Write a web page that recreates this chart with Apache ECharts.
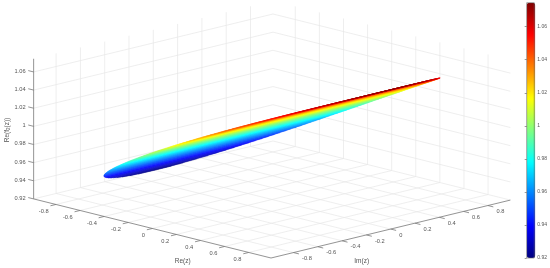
<!DOCTYPE html>
<html><head><meta charset="utf-8">
<style>html,body{margin:0;padding:0;background:#fff}#c{width:550px;height:268px;filter:blur(0.35px)}</style>
<script src="https://cdn.jsdelivr.net/npm/echarts@6/dist/echarts.min.js"></script>
</head><body><div id="c"></div>
<script>
// ---- values ----
var reTicks = [-0.8,-0.6,-0.4,-0.2,0,0.2,0.4,0.6,0.8];
var imTicks = [-0.8,-0.6,-0.4,-0.2,0,0.2,0.4,0.6,0.8];
var zTicks  = [0.92,0.94,0.96,0.98,1,1.02,1.04,1.06];
var reSlices = [-0.983,-0.973,-0.958,-0.934,-0.909,-0.885,-0.860,-0.836,-0.811,-0.786,-0.762,-0.737,-0.713,-0.688,-0.664,-0.639,-0.614,-0.590,-0.565,-0.541,-0.516,-0.492,
  -0.467,-0.442,-0.418,-0.393,-0.369,-0.344,-0.319,-0.295,-0.270,-0.246,-0.221,-0.197,-0.172,-0.147,-0.123,-0.098,-0.074,-0.049,-0.025,0,
  0.025,0.049,0.074,0.098,0.123,0.147,0.172,0.197,0.221,0.246,0.270,0.295,0.319,0.344,0.369,0.393,0.418,0.442,0.467,0.492,
  0.516,0.541,0.565,0.590,0.614,0.639,0.664,0.688,0.713,0.737,0.762,0.786,0.811,0.836,0.860,0.885,0.909,0.934,0.958,0.973,0.983];
var imHalf = [0,0.139,0.218,0.307,0.374,0.428,0.476,0.518,0.556,0.590,0.621,0.650,0.677,0.702,0.725,0.747,0.767,0.786,0.804,0.821,0.837,0.851,
  0.865,0.878,0.890,0.901,0.911,0.921,0.930,0.938,0.945,0.952,0.958,0.963,0.968,0.972,0.975,0.978,0.980,0.982,0.983,0.983,
  0.983,0.982,0.980,0.978,0.975,0.972,0.968,0.963,0.958,0.952,0.945,0.938,0.930,0.921,0.911,0.901,0.890,0.878,0.865,0.851,
  0.837,0.821,0.804,0.786,0.767,0.747,0.725,0.702,0.677,0.650,0.621,0.590,0.556,0.518,0.476,0.428,0.374,0.307,0.218,0.139,0];
var zEdge = [0.9194,0.9203,0.9217,0.9240,0.9262,0.9285,0.9307,0.9329,0.9352,0.9374,0.9396,0.9418,0.9440,0.9462,0.9483,0.9505,0.9527,0.9548,0.9569,0.9591,0.9612,0.9633,
  0.9654,0.9675,0.9696,0.9717,0.9737,0.9758,0.9778,0.9799,0.9819,0.9839,0.9859,0.9879,0.9899,0.9919,0.9939,0.9958,0.9978,0.9997,1.0017,1.0036,
  1.0055,1.0074,1.0093,1.0112,1.0131,1.0150,1.0169,1.0187,1.0206,1.0224,1.0242,1.0261,1.0279,1.0297,1.0315,1.0333,1.0350,1.0368,1.0386,1.0403,
  1.0421,1.0438,1.0455,1.0472,1.0489,1.0506,1.0523,1.0540,1.0556,1.0573,1.0590,1.0606,1.0622,1.0639,1.0655,1.0671,1.0687,1.0703,1.0718,1.0728,1.0734];
var jetColors = ['#00007f','#0000ff','#007fff','#00ffff','#7fff7f','#ffff00','#ff7f00','#ff0000','#7f0000'];
var reName = 'Re(z)', imName = 'Im(z)';

// ---- 3-D box limits and view ----
var lim = 0.985, zMin = 0.92, zMax = 1.0745;
var view = {cx:272, cy:199.5, ax:120.5, ay:30, bx:121.5, by:-29.4, c:907};
function proj(re, im, z){
  return [view.cx + view.ax*re + view.bx*im,
          view.cy + view.ay*re + view.by*im - view.c*(z - zMin)];
}
var FONT = '"Liberation Sans", Arial, sans-serif';
var TEXT = '#555', AXIS = '#787878', GRID = '#e6e6e6';

function seg(a,b){ return a.concat(b); }
var gridSegs = [];
imTicks.forEach(function(t){
  gridSegs.push(seg(proj(-lim,t,zMin),proj(-lim,t,zMax)));   // left wall
  gridSegs.push(seg(proj(-lim,t,zMin),proj(lim,t,zMin)));    // floor
});
reTicks.forEach(function(t){
  gridSegs.push(seg(proj(t,lim,zMin),proj(t,lim,zMax)));     // right wall
  gridSegs.push(seg(proj(t,-lim,zMin),proj(t,lim,zMin)));    // floor
});
zTicks.forEach(function(t){
  gridSegs.push(seg(proj(-lim,-lim,t),proj(-lim,lim,t)));
  gridSegs.push(seg(proj(-lim,lim,t),proj(lim,lim,t)));
});
var axisSegs = [
  seg(proj(-lim,-lim,zMin),proj(-lim,-lim,zMax)),
  seg(proj(-lim,-lim,zMin),proj(lim,-lim,zMin)),
  seg(proj(lim,-lim,zMin),proj(lim,lim,zMin))
];
var TL = 0.045;
reTicks.forEach(function(t){ axisSegs.push(seg(proj(t,-lim,zMin),proj(t,-lim-TL,zMin))); });
imTicks.forEach(function(t){ axisSegs.push(seg(proj(lim,t,zMin),proj(lim+TL,t,zMin))); });
zTicks.forEach(function(t){ axisSegs.push(seg(proj(-lim,-lim,t),proj(-lim-TL,-lim,t))); });

var labels = [];
function fmt(v){ return String(v); }
reTicks.forEach(function(t){ var p=proj(t,-lim,zMin); labels.push([p[0]-7.3,p[1]+6.5,fmt(t),'right']); });
imTicks.forEach(function(t){ var p=proj(lim,t,zMin); labels.push([p[0]+8.5,p[1]+6,fmt(t),'left']); });
zTicks.forEach(function(t){ var p=proj(-lim,-lim,t); labels.push([p[0]-8,p[1]-0.6,fmt(t),'right']); });

var strips = [];
for (var i=0;i<reSlices.length-1;i++){
  var p1=proj(reSlices[i],-imHalf[i],zEdge[i]), p2=proj(reSlices[i],imHalf[i],zEdge[i]),
      p3=proj(reSlices[i+1],imHalf[i+1],zEdge[i+1]), p4=proj(reSlices[i+1],-imHalf[i+1],zEdge[i+1]);
  strips.push(p1.concat(p2,p3,p4,[(zEdge[i]+zEdge[i+1])/2]));
}

function lineItem(color,width){
  return function(params,api){
    var a=api.coord([api.value(0),api.value(1)]), b=api.coord([api.value(2),api.value(3)]);
    return {type:'line',shape:{x1:a[0],y1:a[1],x2:b[0],y2:b[1]},style:{stroke:color,lineWidth:width,fill:null}};
  };
}
var option = {
  animation:false,
  backgroundColor:'#fff',
  grid:[
    {left:0,top:0,width:550,height:268,show:false},
    {left:526.7,top:2.7,width:8.6,height:255.3,show:true,borderColor:'#666',borderWidth:0.6,backgroundColor:'transparent',z:20}
  ],
  xAxis:[
    {type:'value',min:0,max:550,show:false,gridIndex:0},
    {type:'value',min:0,max:1,show:false,gridIndex:1}
  ],
  yAxis:[
    {type:'value',min:0,max:268,inverse:true,show:false,gridIndex:0},
    {type:'value',gridIndex:1,position:'right',min:zMin,max:zMax,interval:0.02,z:21,
     splitLine:{show:false},axisLine:{show:false},
     axisTick:{show:true,inside:true,length:2,lineStyle:{color:'#555',width:0.6}},
     axisLabel:{show:true,fontSize:5,margin:3,color:TEXT,fontFamily:FONT,showMaxLabel:false,
       formatter:function(v){return String(+v.toFixed(2));}}}
  ],
  visualMap:{type:'continuous',show:true,seriesIndex:2,dimension:8,min:zMin,max:zMax,
    left:526.7,top:2.7,itemWidth:8.6,itemHeight:255.3,padding:0,text:null,showLabel:false,
    calculable:false,hoverLink:false,inRange:{color:jetColors},z:4},
  series:[
    {type:'custom',silent:true,coordinateSystem:'cartesian2d',clip:false,data:gridSegs,renderItem:lineItem(GRID,0.7),z:1},
    {type:'custom',silent:true,coordinateSystem:'cartesian2d',clip:false,data:axisSegs,renderItem:lineItem(AXIS,0.8),z:2},
    {type:'custom',silent:true,coordinateSystem:'cartesian2d',clip:false,data:strips,z:3,
     renderItem:function(params,api){
       var pts=[];
       for(var k=0;k<4;k++){pts.push(api.coord([api.value(2*k),api.value(2*k+1)]));}
       var col=api.visual('color');
       return {type:'polygon',shape:{points:pts},style:{fill:col,stroke:col,lineWidth:0.25,lineJoin:'round'}};
     }},
    {type:'custom',silent:true,coordinateSystem:'cartesian2d',clip:false,data:labels,z:4,
     encode:{x:0,y:1},
     dimensions:['x','y',{name:'t',type:'ordinal'},{name:'a',type:'ordinal'}],
     renderItem:function(params,api){
       var d=labels[params.dataIndex], p=api.coord([d[0],d[1]]);
       return {type:'text',style:{x:p[0],y:p[1],text:d[2],fontSize:5.7,fontFamily:FONT,fill:TEXT,align:d[3],verticalAlign:'middle'}};
     }},
    {type:'custom',silent:true,coordinateSystem:'cartesian2d',clip:false,data:[[182.7,261.3,reName],[361.7,261.3,imName]],z:4,
     dimensions:['x','y',{name:'t',type:'ordinal'}],
     renderItem:function(params,api){
       var names=[reName,imName], pos=[[182.7,261.3],[361.7,261.3]];
       var i=params.dataIndex, p=api.coord(pos[i]);
       return {type:'text',style:{x:p[0],y:p[1],text:names[i],fontSize:6.5,fontFamily:FONT,fill:TEXT,align:'center',verticalAlign:'middle'}};
     }},
    {type:'custom',silent:true,coordinateSystem:'cartesian2d',clip:false,data:[[7,130]],z:4,
     renderItem:function(params,api){
       var p=api.coord([api.value(0),api.value(1)]);
       return {type:'text',x:p[0],y:p[1],rotation:Math.PI/2,
         style:{x:0,y:0,text:'{a|Re(f}{s|2}{a|(z))}',align:'center',verticalAlign:'middle',
           rich:{a:{fontSize:6.5,fontFamily:FONT,fill:TEXT,color:TEXT},
                 s:{fontSize:4.5,fontFamily:FONT,fill:TEXT,color:TEXT,verticalAlign:'bottom',padding:[3,0,0,0]}}}};
     }}
  ]
};
echarts.init(document.getElementById('c'),null,{renderer:'canvas'}).setOption(option);
</script></body></html>
